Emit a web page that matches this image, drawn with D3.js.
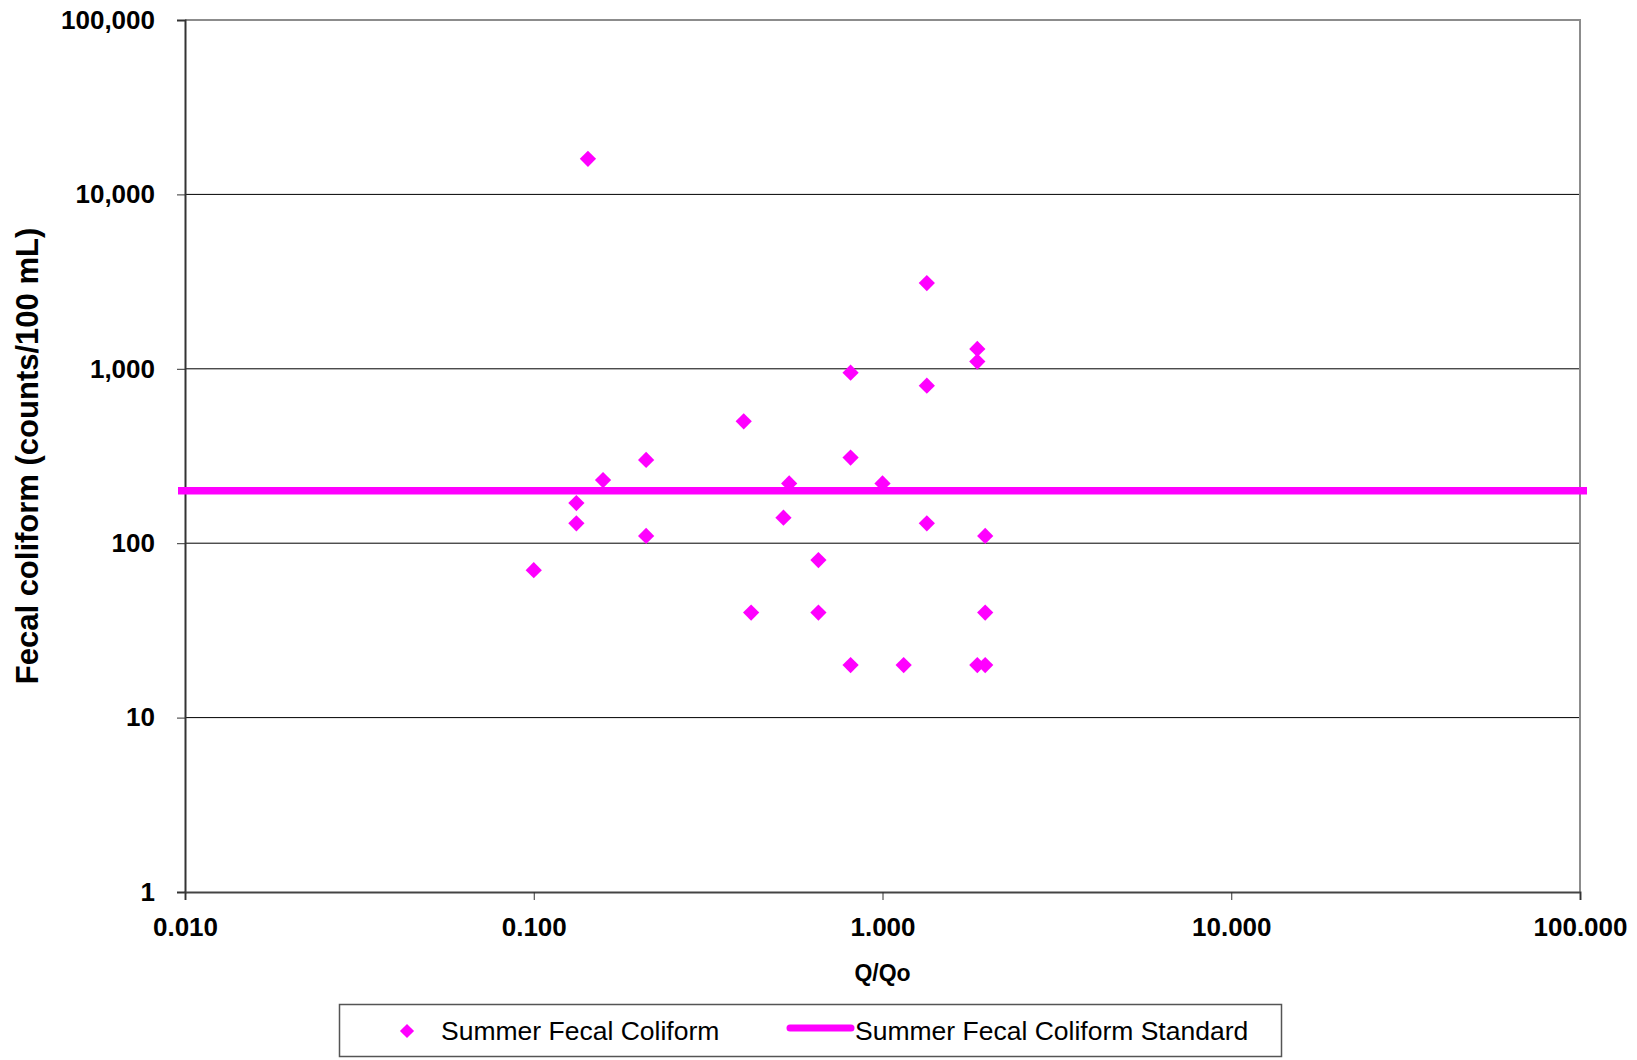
<!DOCTYPE html>
<html>
<head>
<meta charset="utf-8">
<script src="https://cdn.jsdelivr.net/npm/d3@7"></script>
<style>
  body { margin: 0; background: #fff; }
  svg { display: block; font-family: "Liberation Sans", Arial, sans-serif; }
</style>
</head>
<body>
<svg id="chart" width="1637" height="1060"></svg>
<script>
// data
var qRatio = [0.143, 1.34, 1.87, 1.87, 0.81, 1.34, 0.40, 0.21, 0.81, 0.158,
              0.54, 1.0, 0.1325, 0.1325, 0.21, 0.52, 1.34, 1.97, 0.10, 0.655,
              0.42, 0.655, 1.97, 0.81, 1.15, 1.87, 1.97];
var fecal = [16000, 3100, 1300, 1100, 950, 800, 500, 300, 310, 230,
             220, 220, 170, 130, 110, 140, 130, 110, 70, 80,
             40, 40, 40, 20, 20, 20, 20];
var standardValue = 200;
var xTicks = [0.01, 0.1, 1, 10, 100];
var yTicks = [1, 10, 100, 1000, 10000, 100000];
var seriesNames = ["Summer Fecal Coliform", "Summer Fecal Coliform Standard"];

var svg = d3.select("#chart");
var magenta = "#ff00ff";

var x = d3.scaleLog().domain([0.01, 100]).range([185, 1580]);
var y = d3.scaleLog().domain([1, 100000]).range([892, 20]);

// gridlines
svg.append("g")
  .selectAll("line")
  .data(yTicks.slice(1, -1))
  .join("line")
  .attr("x1", x(0.01)).attr("x2", x(100))
  .attr("y1", d => y(d)).attr("y2", d => y(d))
  .attr("stroke", "#000").attr("stroke-width", 1);

// top + right frame (gray)
svg.append("path")
  .attr("d", "M" + x(0.01) + "," + y(100000) + "H" + x(100) + "V" + y(1))
  .attr("fill", "none").attr("stroke", "#8c8c8c").attr("stroke-width", 2);

// y axis
var yAxis = svg.append("g")
  .attr("transform", "translate(" + x(0.01) + ",0)")
  .call(d3.axisLeft(y).tickValues(yTicks).tickFormat(d3.format(",")).tickSize(8).tickPadding(22));
yAxis.select(".domain").attr("stroke", "#333").attr("stroke-width", 2);
yAxis.selectAll(".tick line").attr("stroke", "#333");
yAxis.selectAll(".tick text")
  .attr("font-size", 26).attr("font-weight", "bold").attr("fill", "#000")
  .attr("font-family", "Liberation Sans, Arial, sans-serif");

// x axis
var xAxis = svg.append("g")
  .attr("transform", "translate(0," + y(1) + ")")
  .call(d3.axisBottom(x).tickValues(xTicks).tickFormat(d3.format(".3f")).tickSize(8).tickPadding(18));
xAxis.select(".domain").attr("stroke", "#444").attr("stroke-width", 2);
xAxis.selectAll(".tick line").attr("stroke", "#333");
xAxis.selectAll(".tick text")
  .attr("font-size", 26).attr("font-weight", "bold").attr("fill", "#000")
  .attr("font-family", "Liberation Sans, Arial, sans-serif");

// axis titles
svg.append("text")
  .attr("x", (x(0.01) + x(100)) / 2).attr("y", 981)
  .attr("text-anchor", "middle")
  .attr("font-size", 23).attr("font-weight", "bold")
  .text("Q/Qo");

svg.append("text")
  .attr("transform", "translate(38," + (y(1) + y(100000)) / 2 + ") rotate(-90)")
  .attr("text-anchor", "middle")
  .attr("font-size", 31).attr("font-weight", "bold")
  .text("Fecal coliform (counts/100 mL)");

// standard line (runs a little past both axes)
svg.append("line")
  .attr("x1", x(0.01) - 7).attr("x2", x(100) + 7)
  .attr("y1", y(standardValue)).attr("y2", y(standardValue))
  .attr("stroke", magenta).attr("stroke-width", 7.5);

// points
var diamond = d3.symbol().type(d3.symbolSquare).size(132);
svg.append("g")
  .selectAll("path")
  .data(qRatio.map((q, i) => [q, fecal[i]]))
  .join("path")
  .attr("d", diamond)
  .attr("transform", d => "translate(" + x(d[0]) + "," + y(d[1]) + ") rotate(45)")
  .attr("fill", magenta);

// legend
var legend = svg.append("g");
legend.append("rect")
  .attr("x", 339.5).attr("y", 1004.5).attr("width", 942).attr("height", 52)
  .attr("fill", "#fff").attr("stroke", "#555").attr("stroke-width", 1.5);
legend.append("path")
  .attr("d", d3.symbol().type(d3.symbolSquare).size(100))
  .attr("transform", "translate(407,1031) rotate(45)")
  .attr("fill", magenta);
legend.append("text")
  .attr("x", 441).attr("y", 1040)
  .attr("font-size", 26.5)
  .text(seriesNames[0]);
legend.append("line")
  .attr("x1", 790).attr("x2", 851).attr("y1", 1028).attr("y2", 1028)
  .attr("stroke", magenta).attr("stroke-width", 7).attr("stroke-linecap", "round");
legend.append("text")
  .attr("x", 855).attr("y", 1040)
  .attr("font-size", 26.5)
  .text(seriesNames[1]);
</script>
</body>
</html>
